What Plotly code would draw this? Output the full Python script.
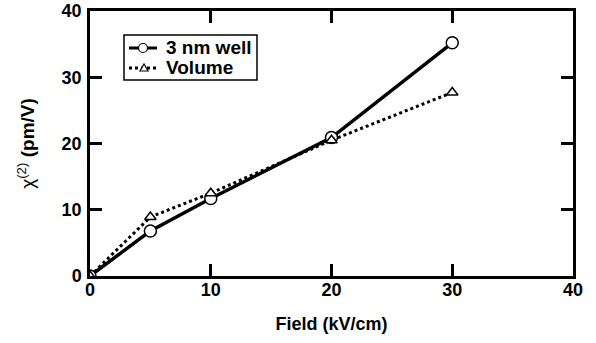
import plotly.graph_objects as go

field = [0, 5, 10, 20, 30]
well_3nm = [0, 6.8, 11.7, 20.9, 35.2]
volume = [0, 8.9, 12.5, 20.5, 27.7]
x_ticks = [0, 10, 20, 30, 40]
y_ticks = [0, 10, 20, 30, 40]
series_names = ["3 nm well", "Volume"]

W, H = 596, 343
ML, MR, MT, MB = 90, 23, 11, 67
PW, PH = W - ML - MR, H - MT - MB


def px(x):
    return (x - ML) / PW


def py(y):
    return (MT + PH - y) / PH


fig = go.Figure()
fig.add_trace(go.Scatter(
    x=field, y=well_3nm, name=series_names[0], mode="lines+markers",
    line=dict(color="black", width=3.5),
    marker=dict(symbol="circle", size=12, color="white", line=dict(color="black", width=1.5)),
))
fig.add_trace(go.Scatter(
    x=field, y=volume, name=series_names[1], mode="lines+markers",
    line=dict(color="black", width=3, dash="dot"),
    marker=dict(symbol="triangle-up", size=10, color="white", line=dict(color="black", width=1.5)),
))

fam = "Liberation Sans, Arial, sans-serif"
axis_common = dict(
    showline=True, linecolor="black", linewidth=2.5, mirror="ticks",
    ticks="inside", ticklen=12, tickwidth=2.5, tickcolor="black",
    showgrid=False, zeroline=False, automargin=False,
    tickfont=dict(family=fam, size=18, color="black", weight="bold"),
)
fig.update_xaxes(range=[0, 40], tickvals=x_ticks, ticktext=[str(v) for v in x_ticks],
                 title=dict(text="<b>Field (kV/cm)</b>", font=dict(family=fam, size=18), standoff=19),
                 ticklabelstandoff=-4, **axis_common)
fig.update_yaxes(range=[0, 40], tickvals=y_ticks, ticktext=[str(v) for v in y_ticks],
                 title=dict(text="χ<sup>(2)</sup> <b>(pm/V)</b>", font=dict(family=fam, size=19), standoff=22),
                 ticklabelstandoff=2, **axis_common)

# Compact legend box, as in the original figure
R1, R2 = 48, 68
shapes = [
    dict(type="rect", xref="paper", yref="paper", x0=px(124), x1=px(257), y0=py(80), y1=py(35),
         line=dict(color="black", width=1.5), fillcolor="white", layer="above"),
    dict(type="line", xref="paper", yref="paper", x0=px(129), x1=px(157), y0=py(R1), y1=py(R1),
         line=dict(color="black", width=3), layer="above"),
    dict(type="circle", xref="paper", yref="paper", x0=px(138.5), x1=px(147.5), y0=py(R1 + 4.5), y1=py(R1 - 4.5),
         line=dict(color="black", width=1.2), fillcolor="white", layer="above"),
    dict(type="line", xref="paper", yref="paper", x0=px(129), x1=px(158), y0=py(R2), y1=py(R2),
         line=dict(color="black", width=3, dash="dot"), layer="above"),
    dict(type="path", xref="paper", yref="paper",
         path=f"M {px(140)} {py(R2 + 3)} L {px(148)} {py(R2 + 3)} L {px(144)} {py(R2 - 4)} Z",
         line=dict(color="black", width=1.2), fillcolor="white", layer="above"),
]
annotations = [
    dict(xref="paper", yref="paper", x=px(165), y=py(R1), text=f"<b>{series_names[0]}</b>",
         showarrow=False, xanchor="left", yanchor="middle", height=19, borderpad=0,
         font=dict(family=fam, size=19, color="black")),
    dict(xref="paper", yref="paper", x=px(165), y=py(R2), text=f"<b>{series_names[1]}</b>",
         showarrow=False, xanchor="left", yanchor="middle", height=19, borderpad=0,
         font=dict(family=fam, size=19, color="black")),
]

fig.update_layout(
    width=W, height=H,
    margin=dict(l=ML, r=MR, t=MT, b=MB),
    plot_bgcolor="white", paper_bgcolor="white",
    font=dict(family=fam, size=15, color="black"),
    showlegend=False,
    shapes=shapes,
    annotations=annotations,
)
fig.write_html("out.html", config={"displayModeBar": False},
               post_script="document.body.style.margin='0';")
